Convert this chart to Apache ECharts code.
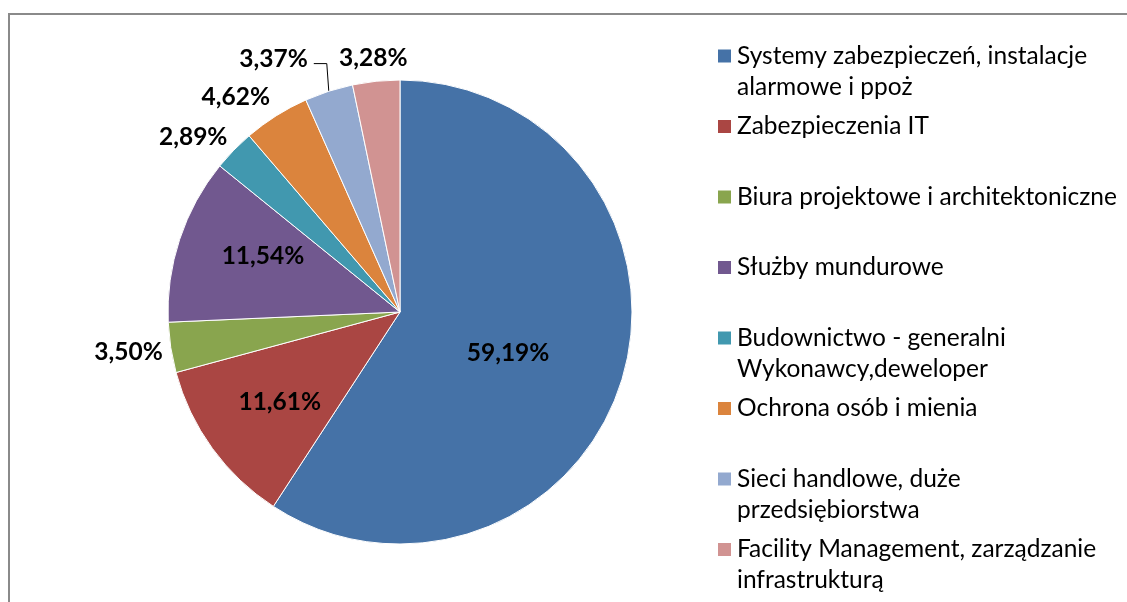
<!DOCTYPE html>
<html>
<head>
<meta charset="utf-8">
<script src="https://cdn.jsdelivr.net/npm/echarts@6/dist/echarts.min.js"></script>
<style>
  html, body { margin: 0; padding: 0; background: #fff; }
  #chart { width: 1127px; height: 602px; }
</style>
</head>
<body>
<div id="chart"></div>
<script>
// ---- data ----
const categories = [
  'Systemy zabezpieczeń, instalacje alarmowe i ppoż',
  'Zabezpieczenia IT',
  'Biura projektowe i architektoniczne',
  'Służby mundurowe',
  'Budownictwo - generalni Wykonawcy,deweloper',
  'Ochrona osób i mienia',
  'Sieci handlowe, duże przedsiębiorstwa',
  'Facility Management, zarządzanie infrastrukturą'
];
const values = [59.19, 11.61, 3.50, 11.54, 2.89, 4.62, 3.37, 3.28];
const legendLines = [
  ['Systemy zabezpieczeń, instalacje', 'alarmowe i ppoż'],
  ['Zabezpieczenia IT'],
  ['Biura projektowe i architektoniczne'],
  ['Służby mundurowe'],
  ['Budownictwo - generalni', 'Wykonawcy,deweloper'],
  ['Ochrona osób i mienia'],
  ['Sieci handlowe, duże', 'przedsiębiorstwa'],
  ['Facility Management, zarządzanie', 'infrastrukturą']
];

// ---- style ----
const colors = ['#4572A7', '#AA4643', '#89A54E', '#71588F', '#4198AF', '#DB843D', '#93A9CF', '#D19392'];
const labelPlacement = ['inside', 'inside', 'outside', 'inside', 'outside', 'outside', 'outside', 'outside'];
const labelNudge = [[-6, 7], [-24, 20], [3, 4], [-24, -19], [3, -9], [2, -14], [0, 0], [37, -17]];
const leaderIndex = 6;
const FONT = 'Lato';
const LEGEND_SIZE = 24.5;
const LABEL_SIZE = 24.5;

const chart = echarts.init(document.getElementById('chart'), null, { renderer: 'canvas' });

const seriesData = categories.map((name, i) => {
  const item = {
    name: name,
    value: values[i],
    itemStyle: { color: colors[i] },
    label: { position: labelPlacement[i] }
  };
  if (i === leaderIndex) {
    item.labelLine = { show: true, length: 29, length2: 13 };
  }
  return item;
});

const option = {
  backgroundColor: '#ffffff',
  animation: false,
  graphic: [{
    type: 'rect',
    shape: { x: 9, y: 14, width: 1300, height: 800 },
    style: { fill: 'none', stroke: '#8a8a8a', lineWidth: 2 },
    silent: true,
    z: -10
  }],
  legend: {
    orient: 'vertical',
    left: 716,
    top: 9.5,
    height: 600,
    padding: 0,
    itemGap: -22.5,
    itemWidth: 15,
    itemHeight: 15,
    icon: 'rect',
    selectedMode: false,
    data: categories,
    formatter: function (name) {
      const idx = categories.indexOf(name);
      const lines = legendLines[idx].slice();
      if (lines.length < 2) lines.push(' ');
      return lines.map(l => '{t|' + l + '}').join('\n');
    },
    textStyle: {
      fontFamily: FONT,
      fontSize: LEGEND_SIZE,
      color: '#000',
      lineHeight: 31,
      padding: [31, 0, 0, 0],
      backgroundColor: 'rgba(255,255,255,0)',
      rich: {
        t: { fontFamily: FONT, fontSize: LEGEND_SIZE, color: '#000', lineHeight: 31 }
      }
    }
  },
  series: [{
    type: 'pie',
    center: [400, 312],
    radius: 232,
    startAngle: 90,
    clockwise: true,
    avoidLabelOverlap: false,
    data: seriesData,
    itemStyle: { borderColor: '#ffffff', borderWidth: 1 },
    emphasis: { disabled: true },
    label: {
      show: true,
      fontFamily: FONT,
      fontWeight: 'bold',
      fontSize: LABEL_SIZE,
      color: '#000',
      formatter: function (p) {
        return p.value.toFixed(2).replace('.', ',') + '%';
      }
    },
    labelLine: {
      show: false,
      length: 6,
      length2: 0,
      lineStyle: { color: '#000', width: 1 }
    },
    labelLayout: function (p) {
      const i = p.dataIndex;
      if (i === leaderIndex && p.labelLinePoints) {
        const pts = p.labelLinePoints;
        const p0 = pts[0];
        const p1 = [p0[0] - 2, pts[1][1]];
        const p2 = [p1[0] - 13, p1[1]];
        return {
          x: p2[0] - 6,
          y: p2[1] - 5,
          align: 'right',
          verticalAlign: 'middle',
          labelLinePoints: [p0, p1, p2]
        };
      }
      return { dx: labelNudge[i][0], dy: labelNudge[i][1] };
    }
  }]
};

chart.setOption(option);
</script>
</body>
</html>
